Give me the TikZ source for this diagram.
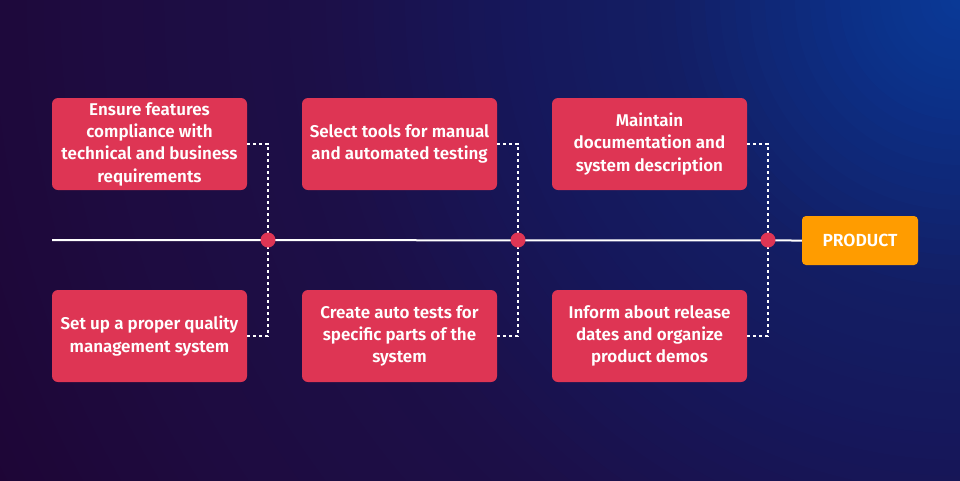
\documentclass[tikz,border=0pt]{standalone}
\usepackage{fontspec}
\setmainfont{Fira Sans}[BoldFont={Fira Sans SemiBold}]
\definecolor{boxred}{HTML}{DE3554}
\definecolor{prodorange}{HTML}{FF9C00}
\definecolor{cZ}{HTML}{0A3A98}
\definecolor{cA}{HTML}{0C2F86}
\definecolor{cB}{HTML}{131E64}
\definecolor{cC}{HTML}{16175A}
\definecolor{cD}{HTML}{1C0F48}
\definecolor{cE}{HTML}{1E0B3F}
\definecolor{cF}{HTML}{1E0535}
\tikzset{
  taskbox/.style={fill=boxred, rounded corners=6pt, minimum width=195pt, minimum height=92pt,
    inner sep=0pt, text=white, align=center, font=\fontsize{17}{22.3}\selectfont\bfseries},
  prodbox/.style={fill=prodorange, rounded corners=4pt, minimum width=116pt, minimum height=49pt,
    inner sep=0pt, text=white, font=\fontsize{17.5}{20}\selectfont\bfseries},
  hub/.style={circle, fill=boxred, minimum size=15pt, inner sep=0pt},
  mainline/.style={draw=white, line width=2pt},
  link/.style={draw=white, line width=2pt, dash pattern=on 3pt off 3pt}
}
\begin{document}
\begin{tikzpicture}[x=1pt, y=-1pt]
\useasboundingbox (0,0) rectangle (960,480);
\begin{scope}
  \clip (0,0) rectangle (960,480);
  \fill[cF] (0,0) rectangle (960,480);
  \foreach \ri/\ci/\ro/\co in {900/cE/1100/cF, 650/cD/900/cE, 460/cC/650/cD, 300/cB/460/cC, 120/cA/300/cB, 0/cZ/120/cA}{
    \foreach \k in {0,...,11}{
      \pgfmathsetmacro\rad{\ro-(\ro-\ri)*\k/12}
      \pgfmathtruncatemacro\pc{100*\k/12}
      \fill[\ci!\pc!\co] (960,0) circle (\rad);
    }
  }
\end{scope}

\node[taskbox] (t1) at (149.5,144) {Ensure features\\compliance with\\technical and business\\requirements};
\node[taskbox] (t2) at (399.5,144) {Select tools for manual\\and automated testing};
\node[taskbox] (t3) at (649.5,144) {Maintain\\documentation and\\system description};
\node[taskbox] (b1) at (149.5,336) {Set up a proper quality\\management system};
\node[taskbox] (b2) at (399.5,336) {Create auto tests for\\specific parts of the\\system};
\node[taskbox] (b3) at (649.5,336) {Inform about release\\dates and organize\\product demos};
\node[prodbox] (prod) at (860,240.5) {PRODUCT};

\coordinate (start) at (52,240);
\coordinate (h1) at (268,240);
\coordinate (h2) at (518,240);
\coordinate (h3) at (768,240);

\draw[link] (t1.east) -| (h1);
\draw[link] (b1.east) -| (h1);
\draw[link] (t2.east) -| (h2);
\draw[link] (b2.east) -| (h2);
\draw[link] (t3.east) -| (h3);
\draw[link] (b3.east) -| (h3);

\draw[mainline] (start) -- (prod.west);

\node[hub] (d1) at (h1) {};
\node[hub] (d2) at (h2) {};
\node[hub] (d3) at (h3) {};
\end{tikzpicture}
\end{document}
